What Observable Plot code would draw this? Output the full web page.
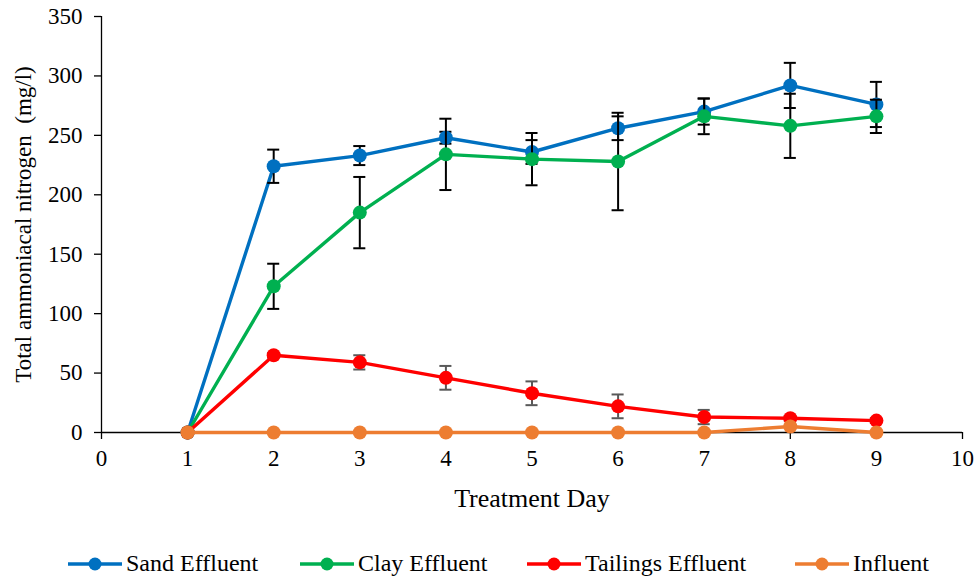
<!DOCTYPE html>
<html>
<head>
<meta charset="utf-8">
<script src="https://cdn.jsdelivr.net/npm/d3@7"></script>
<script src="https://cdn.jsdelivr.net/npm/@observablehq/plot@0.6"></script>
<style>
  html, body { margin: 0; padding: 0; background: #fff; }
  #chart { width: 977px; height: 540px; }
  .legend { position: relative; height: 41px;
            font-family: "Liberation Serif", "Times New Roman", serif; font-size: 24px; color: #000; }
  .legend .item { display: flex; align-items: center; position: absolute; white-space: nowrap; }
  .legend svg { margin-right: 4px; }
</style>
</head>
<body>
<div id="chart"></div>
<script>
const days = [1, 2, 3, 4, 5, 6, 7, 8, 9];
const seriesNames = ["Sand Effluent", "Clay Effluent", "Tailings Effluent", "Influent"];
const seriesColors = ["#0070C0", "#00B050", "#FF0000", "#ED7D31"];
const errColors = ["#000000", "#000000", "#595959", "#000000"];
const sand = [0, 224, 233, 248, 236, 256, 270, 292, 276];
const sandErr = [0, 14, 8, 5, 10, 10, 11, 19, 19];
const clay = [0, 123, 185, 234, 230, 228, 266, 258, 266];
const clayErr = [0, 19, 30, 30, 22, 41, 15, 27, 14];
const tailings = [0, 65, 59, 46, 33, 22, 13, 12, 10];
const tailingsErr = [0, 2, 6, 10, 10, 10, 6, 2, 2];
const influent = [0, 0, 0, 0, 0, 0, 0, 5, 0];
const influentErr = [0, 0, 0, 0, 0, 0, 0, 0, 0];
const xTicks = [0, 1, 2, 3, 4, 5, 6, 7, 8, 9, 10];
const yTicks = [0, 50, 100, 150, 200, 250, 300, 350];

const values = [sand, clay, tailings, influent];
const errs = [sandErr, clayErr, tailingsErr, influentErr];

const marks = [];
seriesNames.forEach((name, si) => {
  const data = days.map((d, i) => ({day: d, v: values[si][i], e: errs[si][i]}));
  const errData = data.filter(d => d.e > 0);
  marks.push(Plot.line(data, {x: "day", y: "v", stroke: seriesColors[si], strokeWidth: 3.4}));
  marks.push(Plot.ruleX(errData, {x: "day", y1: d => d.v - d.e, y2: d => d.v + d.e, stroke: errColors[si], strokeWidth: 2}));
  marks.push(Plot.ruleY(errData, {y: d => d.v + d.e, x1: d => d.day - 0.07, x2: d => d.day + 0.07, stroke: errColors[si], strokeWidth: 2}));
  marks.push(Plot.ruleY(errData, {y: d => d.v - d.e, x1: d => d.day - 0.07, x2: d => d.day + 0.07, stroke: errColors[si], strokeWidth: 2}));
  marks.push(Plot.dot(data, {x: "day", y: "v", r: 7, fill: seriesColors[si], stroke: "none"}));
});

const chart = Plot.plot({
  width: 977,
  height: 540,
  marginLeft: 101,
  marginRight: 15,
  marginTop: 16,
  marginBottom: 108,
  style: {fontFamily: "'Liberation Serif', 'Times New Roman', serif", fontSize: "23px", color: "#000", background: "#fff", overflow: "visible"},
  x: {domain: [0, 10]},
  y: {domain: [0, 350]},
  marks: [
    Plot.axisX({ticks: xTicks, tickFormat: d => String(d), tickSize: 7, tickPadding: 10, stroke: "#000", strokeWidth: 1.3, strokeOpacity: 1,
      fontSize: 23, label: null}),
    Plot.axisX({ticks: [], label: "Treatment Day", labelAnchor: "center", labelArrow: "none", labelOffset: 74, fontSize: 26}),
    Plot.axisY({ticks: yTicks, tickFormat: d => String(d), tickSize: 7, tickPadding: 12, stroke: "#000", strokeWidth: 1.3, strokeOpacity: 1,
      fontSize: 23, label: null}),
    Plot.axisY({ticks: [], label: "Total ammoniacal nitrogen  (mg/l)", labelAnchor: "center", labelArrow: "none", labelOffset: 87, fontSize: 23}),
    Plot.ruleX([0], {stroke: "#000", strokeWidth: 1.3}),
    Plot.ruleY([0], {stroke: "#000", strokeWidth: 1.3}),
    ...marks
  ]
});
document.getElementById("chart").appendChild(chart);

// legend
const legend = document.createElement("div");
legend.className = "legend";
const legendX = [68, 300, 527, 795];
seriesNames.forEach((name, si) => {
  const item = document.createElement("div");
  item.className = "item";
  item.style.left = legendX[si] + "px";
  item.style.top = "10px";
  const c = seriesColors[si];
  item.innerHTML = `<svg width="54" height="16"><line x1="0" x2="54" y1="8" y2="8" stroke="${c}" stroke-width="3.4"/><circle cx="27" cy="8" r="6.5" fill="${c}"/></svg><span>${name}</span>`;
  legend.appendChild(item);
});
document.body.appendChild(legend);
</script>
</body>
</html>
